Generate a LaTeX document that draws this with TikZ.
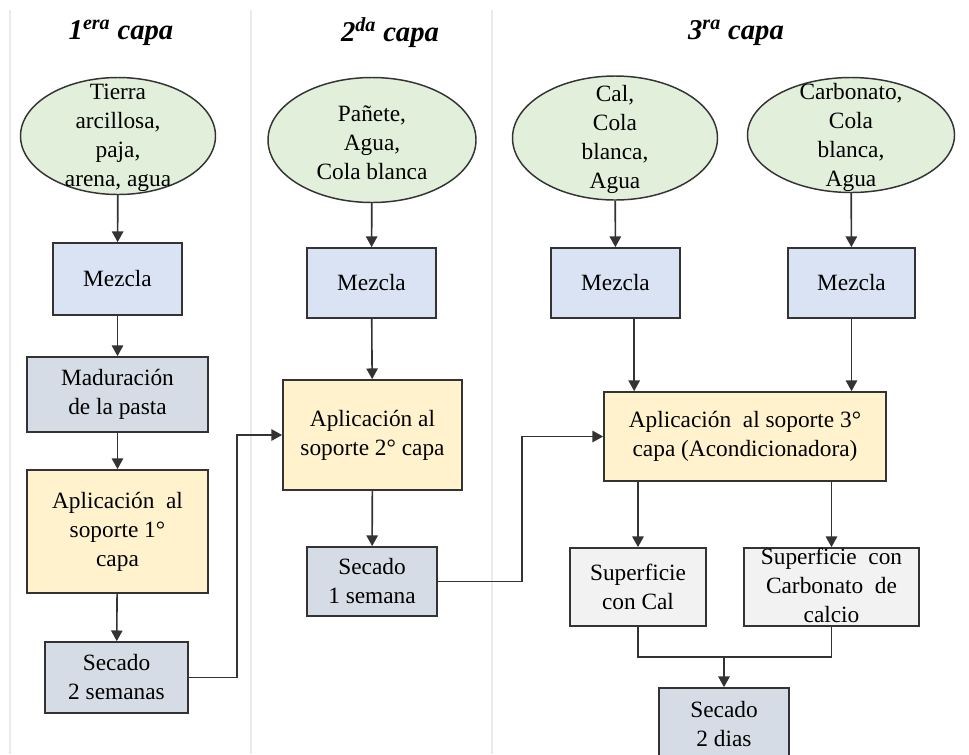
\documentclass[tikz,border=0pt]{standalone}
\usepackage{fontspec}
\setmainfont{Liberation Serif}
\usetikzlibrary{shapes.geometric, arrows.meta, positioning, calc}
\definecolor{insumogreen}{HTML}{E2EFDA}
\definecolor{mezclablue}{HTML}{DAE3F3}
\definecolor{secadogray}{HTML}{D6DCE5}
\definecolor{aplicyellow}{HTML}{FFF2CC}
\definecolor{superfgray}{HTML}{F2F2F2}
\definecolor{linegray}{HTML}{333333}
\newcommand{\body}{\fontsize{17.5}{21.75}\selectfont}

\begin{document}
\begin{tikzpicture}[
    x=0.75pt, y=-0.75pt,
    insumo/.style={ellipse, draw=linegray, fill=insumogreen, line width=1.1pt, inner sep=0pt},
    paso/.style={rectangle, draw=linegray, line width=1.3pt, inner sep=0pt, align=center, font=\body},
    txt/.style={align=center, font=\body, inner sep=0pt},
    titulo/.style={font=\fontsize{21.5}{25}\selectfont\bfseries\itshape},
    sep/.style={draw=black!8, line width=0.8pt},
    arrow/.style={-{Triangle[length=8pt,width=8.5pt]}, line width=1.2pt, draw=linegray}
]
\useasboundingbox (0,0) rectangle (969,754);

% Column separators
\draw[sep] (10,10) -- (10,754);
\draw[sep] (251,10) -- (251,754);
\draw[sep] (492,10) -- (492,754);

% Titles
\node[titulo] (t1) at (121,33) {1\textsuperscript{era} capa};
\node[titulo] (t2) at (390,33) {2\textsuperscript{da} capa};
\node[titulo] (t3) at (736,33) {3\textsuperscript{ra} capa};

% Inputs
\node[insumo, minimum width=146.25pt, minimum height=87.75pt] (e1) at (118,136) {};
\node[txt] (e1t) at (118,138) {Tierra\\arcillosa,\\paja,\\arena, agua};
\node[insumo, minimum width=156pt, minimum height=93.75pt] (e2) at (372,140) {};
\node[txt] (e2t) at (372,143) {Pañete,\\Agua,\\Cola blanca};
\node[insumo, minimum width=153.75pt, minimum height=93pt] (e3) at (615,138) {};
\node[txt] (e3t) at (615,139) {Cal,\\Cola\\blanca,\\Agua};
\node[insumo, minimum width=155.25pt, minimum height=86.25pt] (e4) at (851,135) {};
\node[txt] (e4t) at (851,137) {Carbonato,\\Cola\\blanca,\\Agua};

% 1st layer
\node[paso, fill=mezclablue, minimum width=96.75pt, minimum height=54pt] (m1) at (117.5,279) {Mezcla};
\node[paso, fill=secadogray, minimum width=135.75pt, minimum height=56.25pt] (mad) at (117.5,394.5) {Maduración\\de la pasta};
\node[paso, fill=aplicyellow, minimum width=135.75pt, minimum height=92.25pt] (ap1) at (117.5,531.5) {Aplicación\ \ al\\soporte 1°\\capa};
\node[paso, fill=secadogray, minimum width=107.25pt, minimum height=53.25pt] (s1) at (116.5,677.5) {Secado\\2 semanas};

% 2nd layer
\node[paso, fill=mezclablue, minimum width=96.75pt, minimum height=52.5pt] (m2) at (371.5,283) {Mezcla};
\node[paso, fill=aplicyellow, minimum width=134.25pt, minimum height=82.5pt] (ap2) at (372.5,435) {Aplicación al\\soporte 2° capa};
\node[paso, fill=secadogray, minimum width=97.5pt, minimum height=51.75pt] (s2) at (372,581.5) {Secado\\1 semana};

% 3rd layer
\node[paso, fill=mezclablue, minimum width=96.75pt, minimum height=52.5pt] (m3) at (615.5,283) {Mezcla};
\node[paso, fill=mezclablue, minimum width=95.25pt, minimum height=52.5pt] (m4) at (851.5,283) {Mezcla};
\node[paso, fill=aplicyellow, minimum width=211.5pt, minimum height=66.75pt] (ap3) at (745,436.5) {Aplicación\ \ al soporte 3°\\capa (Acondicionadora)};
\node[paso, fill=superfgray, minimum width=102pt, minimum height=58.5pt] (sc) at (638,587) {Superficie\\con Cal};
\node[paso, fill=superfgray, minimum width=131.25pt, minimum height=58.5pt] (sk) at (831.5,587) {};
\node[txt] (skt) at (831.5,585) {Superficie\ \ con\\Carbonato\ \ de\\calcio};
\node[paso, fill=secadogray, minimum width=97.5pt, minimum height=54pt] (sd) at (724,724) {Secado\\2 dias};

% Connect steps
\draw[arrow] (e1) -- (m1);
\draw[arrow] (m1) -- (mad);
\draw[arrow] (mad) -- (ap1);
\draw[arrow] (ap1) -- (s1);
\draw[arrow] (s1.east) -- ++(48,0) |- (ap2.west);

\draw[arrow] (e2) -- (m2);
\draw[arrow] (m2) -- (ap2);
\draw[arrow] (ap2) -- (s2);
\draw[arrow] (s2.east) -- ++(84,0) |- (ap3.west);

\draw[arrow] (e3) -- (m3);
\draw[arrow] (e4) -- (m4);
\draw[arrow] ([xshift=14pt]m3.south) -- ([xshift=14pt]m3.south |- ap3.north);
\draw[arrow] (m4.south) -- (m4.south |- ap3.north);
\draw[arrow] (sc.north |- ap3.south) -- (sc.north);
\draw[arrow] (sk.north |- ap3.south) -- (sk.north);

% Merge into final drying
\coordinate (mrg) at (724,657);
\draw[line width=1.2pt, draw=linegray] (sc.south) |- (mrg) -| (sk.south);
\draw[arrow] (mrg) -- (sd);
\end{tikzpicture}
\end{document}
